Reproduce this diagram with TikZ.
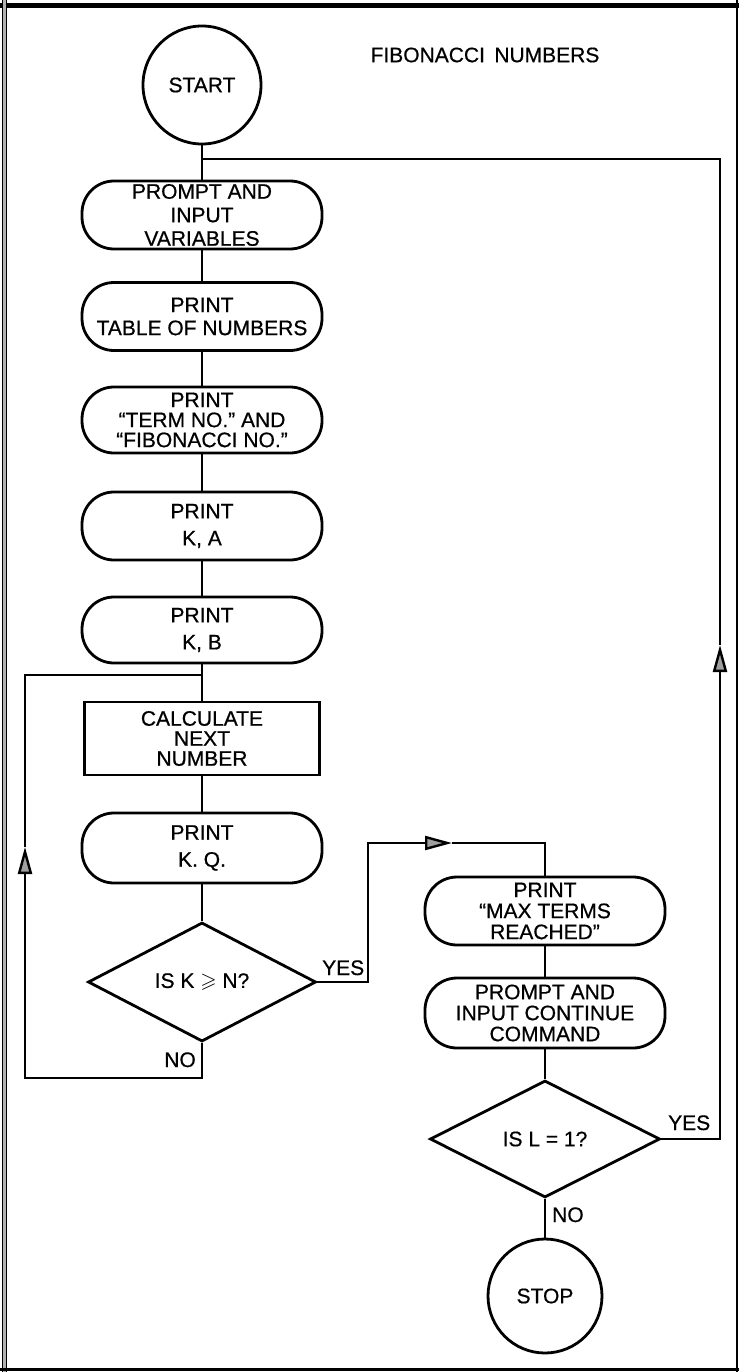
\documentclass[tikz,border=0pt]{standalone}
\usepackage{fontspec}
\usepackage{amssymb}
\setmainfont[FakeBold=0.6]{Liberation Sans}
\usetikzlibrary{shapes.geometric,arrows.meta}

\begin{document}
\begin{tikzpicture}[x=1pt,y=-1pt,
  base/.style={draw, line width=2.8pt, inner sep=0pt, align=center,
               font=\fontsize{21}{21}\selectfont},
  term/.style={base, circle, minimum size=#1},
  proc/.style={base, rectangle, rounded corners=32pt,
               minimum width=240pt, minimum height=68pt},
  calcbox/.style={base, rectangle, minimum width=235pt, minimum height=73pt},
  decision/.style={base, diamond, minimum height=119pt},
  flow/.style={line width=2.4pt},
  midarrow/.style={-{Triangle[length=27pt,width=14pt,fill=gray!75]}},
  lbl/.style={inner sep=0pt, font=\fontsize{21}{21}\selectfont}
]
\useasboundingbox (0,0) rectangle (739,1372);

% page frame
\draw[line width=5pt] (0,5.5) -- (739,5.5);
\draw[line width=5pt, gray!60] (4.5,0) -- (4.5,1372);
\draw[line width=0.8pt] (2.2,0) -- (2.2,1372) (6.8,0) -- (6.8,1372);
\draw[line width=1.5pt] (737,0) -- (737,1372);
\draw[line width=3pt] (0,1369.5) -- (739,1369.5);

% title
\node[lbl] (title) at (485,55) {FIBONACCI\hspace{0.45em}NUMBERS};

% main column
\node[term=118pt] (start) at (202,85) {START};
\node[proc, font=\fontsize{21}{23.5}\selectfont] (p1) at (202,215)
  {PROMPT AND\\INPUT\\VARIABLES};
\node[proc, font=\fontsize{21}{23}\selectfont] (p2) at (202,316.5)
  {PRINT\\TABLE OF NUMBERS};
\node[proc, minimum height=66pt, font=\fontsize{21}{20}\selectfont] (p3) at (202,420)
  {PRINT\\“TERM NO.” AND\\“FIBONACCI NO.”};
\node[proc, font=\fontsize{21}{27}\selectfont] (p4) at (202,526) {PRINT\\K, A};
\node[proc, minimum height=66pt, font=\fontsize{21}{27}\selectfont] (p5) at (202,630)
  {PRINT\\K, B};
\node[calcbox, font=\fontsize{21}{20}\selectfont] (calc) at (202,738.5)
  {CALCULATE\\NEXT\\NUMBER};
\node[proc, minimum height=70pt, font=\fontsize{21}{27}\selectfont] (pkq) at (202,848)
  {PRINT\\K. Q.};
\node[decision, minimum width=228pt] (d1) at (202,982) {IS K \(\geqslant\) N?};

% right column
\node[proc, font=\fontsize{21}{21}\selectfont] (pmax) at (545,911)
  {PRINT\\“MAX TERMS\\REACHED”};
\node[proc, minimum height=70pt, font=\fontsize{21}{21}\selectfont] (pcont) at (545,1013)
  {PROMPT AND\\INPUT CONTINUE\\COMMAND};
\node[decision, minimum width=230pt, minimum height=117pt] (d2) at (545,1139)
  {IS L = 1?};
\node[term=114pt] (stop) at (545,1296) {STOP};

% junction and bend points
\coordinate (jtop)  at (202,159);
\coordinate (jloop) at (202,675);
\coordinate (rtop)  at (720,159);
\coordinate (rarr)  at (720,645);
\coordinate (rbot)  at (720,1139);
\coordinate (lb1)   at (202,1078);
\coordinate (lb2)   at (25,1078);
\coordinate (larr)  at (25,847);
\coordinate (ltop)  at (25,675);
\coordinate (y1)    at (368,982);
\coordinate (y2)    at (368,843);
\coordinate (yarr)  at (452,843);
\coordinate (y3)    at (545,843);

% straight flow
\draw[flow] (start) -- (p1);
\draw[flow] (p1) -- (p2);
\draw[flow] (p2) -- (p3);
\draw[flow] (p3) -- (p4);
\draw[flow] (p4) -- (p5);
\draw[flow] (p5) -- (calc);
\draw[flow] (calc) -- (pkq);
\draw[flow] (pkq) -- (d1.north);
\draw[flow] (pmax) -- (pcont);
\draw[flow] (pcont) -- (d2.north);
\draw[flow] (d2.south) -- (stop);

% NO loop back to the calculation
\draw[flow, midarrow] (d1.south) -- (lb1) -- (lb2) -- (larr);
\draw[flow] (larr) -- (ltop) -- (jloop);

% YES branch to the end message
\draw[flow, midarrow] (d1.east) -- (y1) -- (y2) -- (yarr);
\draw[flow] (yarr) -- (y3) -- (pmax);

% YES loop back to the start
\draw[flow, midarrow] (d2.east) -- (rbot) -- (rarr);
\draw[flow] (rarr) -- (rtop) -- (jtop);

% branch labels
\node[lbl, anchor=base west] (yes1) at (322,975) {YES};
\node[lbl, anchor=base east] (no1) at (196,1067) {NO};
\node[lbl, anchor=base west] (yes2) at (668,1130) {YES};
\node[lbl, anchor=base west] (no2) at (552,1222) {NO};
\end{tikzpicture}
\end{document}
